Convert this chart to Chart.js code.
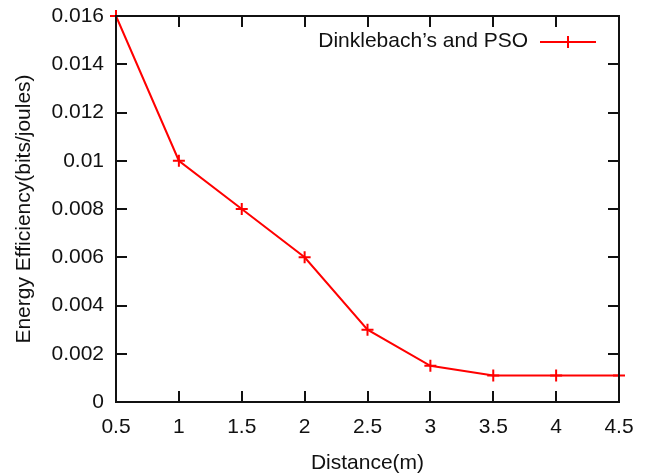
<!DOCTYPE html>
<html>
<head>
<meta charset="utf-8">
<script src="https://cdn.jsdelivr.net/npm/chart.js@4/dist/chart.umd.min.js"></script>
<style>
html,body{margin:0;padding:0;background:#fff;}
#wrap{width:646px;height:476px;}
</style>
</head>
<body>
<div id="wrap"><canvas id="c" width="646" height="476"></canvas></div>
<script>
const distances = [0.5, 1, 1.5, 2, 2.5, 3, 3.5, 4, 4.5];
const efficiency = [0.016, 0.01, 0.008, 0.006, 0.003, 0.0015, 0.0011, 0.0011, 0.0011];
const seriesLabel = "Dinklebach\u2019s and PSO";
const xTicks = [0.5, 1, 1.5, 2, 2.5, 3, 3.5, 4, 4.5];
const yTicks = [0, 0.002, 0.004, 0.006, 0.008, 0.01, 0.012, 0.014, 0.016];
const xTitle = "Distance(m)";
const yTitle = "Energy Efficiency(bits/joules)";

const FONT = "'Liberation Sans', Arial, sans-serif";
const RED = '#ff0000';

const framePlugin = {
  id: 'frame',
  afterDatasetsDraw(chart) {
    const {ctx, chartArea: a, scales: {x, y}} = chart;
    ctx.save();
    ctx.strokeStyle = '#111';
    ctx.lineWidth = 2;
    ctx.strokeRect(a.left, a.top, a.right - a.left, a.bottom - a.top);
    const L = 11;
    ctx.beginPath();
    xTicks.forEach(v => {
      const px = Math.round(x.getPixelForValue(v));
      ctx.moveTo(px, a.bottom); ctx.lineTo(px, a.bottom - L);
      ctx.moveTo(px, a.top); ctx.lineTo(px, a.top + L);
    });
    yTicks.forEach(v => {
      const py = Math.round(y.getPixelForValue(v));
      ctx.moveTo(a.left, py); ctx.lineTo(a.left + L, py);
      ctx.moveTo(a.right, py); ctx.lineTo(a.right - L, py);
    });
    ctx.stroke();
    // legend
    const ds = chart.data.datasets[0];
    const ly = 42;
    const lx1 = 540, lx2 = 596;
    ctx.font = '21px ' + FONT;
    ctx.fillStyle = '#111';
    ctx.textAlign = 'right';
    ctx.textBaseline = 'middle';
    ctx.fillText(ds.label, 528, ly - 1);
    ctx.strokeStyle = RED;
    ctx.lineWidth = 2;
    ctx.beginPath();
    ctx.moveTo(lx1, ly); ctx.lineTo(lx2, ly);
    const cx = (lx1 + lx2) / 2;
    ctx.moveTo(cx, ly - 6); ctx.lineTo(cx, ly + 6);
    ctx.stroke();
    ctx.restore();
  }
};

new Chart(document.getElementById('c'), {
  type: 'line',
  data: {
    datasets: [{
      label: seriesLabel,
      data: distances.map((d, i) => ({x: d, y: efficiency[i]})),
      borderColor: RED,
      backgroundColor: RED,
      borderWidth: 2,
      pointStyle: 'cross',
      pointRadius: 6,
      pointBorderWidth: 2,
      pointBorderColor: RED,
      tension: 0,
      clip: false
    }]
  },
  options: {
    responsive: false,
    animation: false,
    devicePixelRatio: 1,
    layout: {padding: {top: 16, right: 27, left: 0, bottom: 0}},
    plugins: {legend: {display: false}, tooltip: {enabled: false}},
    scales: {
      x: {
        type: 'linear', min: 0.5, max: 4.5,
        afterBuildTicks: s => { s.ticks = xTicks.map(v => ({value: v})); },
        afterFit: s => { s.height = 74; s.paddingLeft = 0; s.paddingRight = 0; },
        grid: {display: false, drawTicks: false},
        border: {display: false},
        ticks: {
          padding: 13,
          color: '#111',
          font: {family: FONT, size: 21},
          maxRotation: 0,
          callback: v => String(v)
        },
        title: {display: true, text: xTitle, color: '#111', font: {family: FONT, size: 21}, padding: {top: 0, bottom: 0}}
      },
      y: {
        type: 'linear', min: 0, max: 0.016,
        afterBuildTicks: s => { s.ticks = yTicks.map(v => ({value: v})); },
        afterFit: s => { s.width = 116; s.paddingTop = 0; s.paddingBottom = 0; },
        grid: {display: false, drawTicks: false},
        border: {display: false},
        ticks: {
          padding: 12,
          color: '#111',
          font: {family: FONT, size: 21},
          callback: v => String(+v.toFixed(4))
        },
        title: {display: true, text: yTitle, color: '#111', font: {family: FONT, size: 21}, padding: {top: 12, bottom: 0}}
      }
    }
  },
  plugins: [framePlugin]
});
</script>
</body>
</html>
